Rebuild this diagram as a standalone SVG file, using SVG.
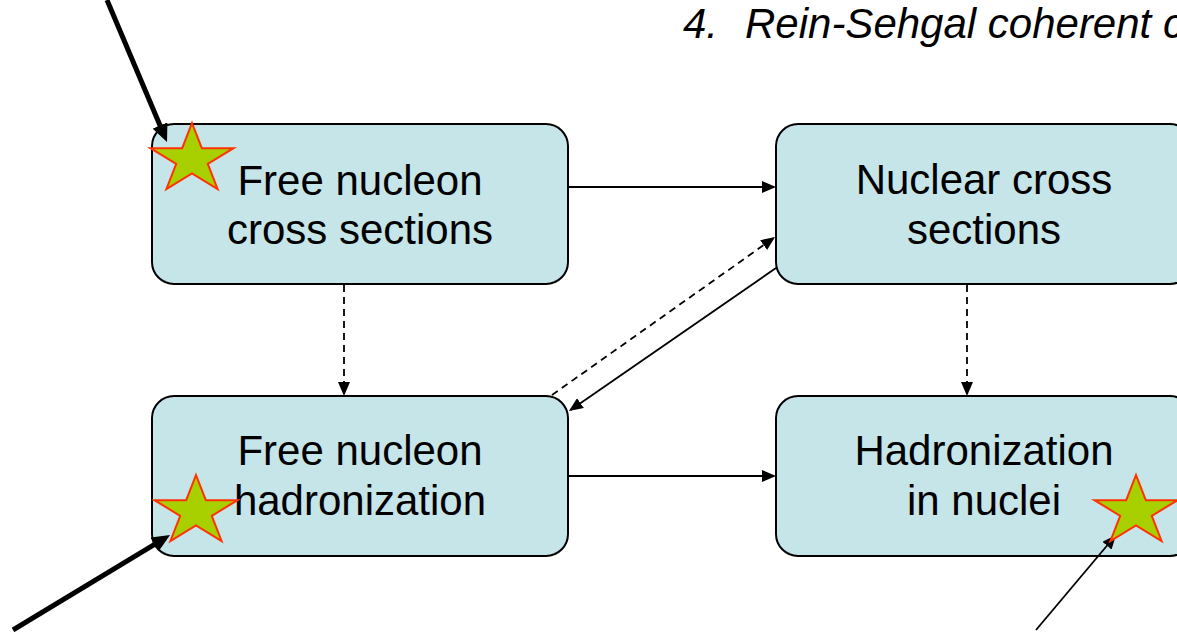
<svg xmlns="http://www.w3.org/2000/svg" width="1177" height="632" viewBox="0 0 1177 632">
  <style>
    .box { fill: #C5E5E8; stroke: #000; stroke-width: 2; }
    .lbl { font-family: "Liberation Sans", Arial, sans-serif; font-size: 42px; fill: #000; text-anchor: middle; }
    .title { font-family: "Liberation Sans", Arial, sans-serif; font-size: 42px; font-style: italic; fill: #000; }
    .thin { stroke: #000; stroke-width: 1.8; fill: none; marker-end: url(#ah); }
    .dash { stroke-dasharray: 7 5; }
    .thick { stroke: #000; stroke-width: 5; fill: none; marker-end: url(#ahb); }
    .star { fill: #A8D000; stroke: #FF3300; stroke-width: 2; stroke-linejoin: miter; }
  </style>
  <defs>
    <marker id="ah" markerUnits="userSpaceOnUse" markerWidth="14" markerHeight="12" refX="12" refY="6" orient="auto">
      <path d="M0,0 L14,6 L0,12 z" fill="#000"/>
    </marker>
    <marker id="ahb" markerUnits="userSpaceOnUse" markerWidth="18" markerHeight="16" refX="12" refY="8" orient="auto">
      <path d="M0,0 L18,8 L0,16 z" fill="#000"/>
    </marker>
    <polygon id="starShape" points="0,-36.5 9.8,-11.3 41.5,-11.3 15.8,4.3 25.6,29.5 0,13.9 -25.6,29.5 -15.8,4.3 -41.5,-11.3 -9.8,-11.3"/>
  </defs>

  <text class="title" x="683" y="38">4.<tspan x="745">Rein-Sehgal coherent c</tspan></text>

  <g id="node-free-xs">
    <rect class="box" x="152" y="124" width="416" height="160" rx="22" ry="22"/>
    <text class="lbl" x="360" y="195">Free nucleon</text>
    <text class="lbl" x="360" y="244">cross sections</text>
  </g>
  <g id="node-nuclear-xs">
    <rect class="box" x="776" y="124" width="416" height="160" rx="22" ry="22"/>
    <text class="lbl" x="984" y="194">Nuclear cross</text>
    <text class="lbl" x="984" y="244">sections</text>
  </g>
  <g id="node-free-had">
    <rect class="box" x="152" y="396" width="416" height="160" rx="22" ry="22"/>
    <text class="lbl" x="360" y="465">Free nucleon</text>
    <text class="lbl" x="360" y="515">hadronization</text>
  </g>
  <g id="node-had-nuclei">
    <rect class="box" x="776" y="396" width="416" height="160" rx="22" ry="22"/>
    <text class="lbl" x="984" y="465">Hadronization</text>
    <text class="lbl" x="984" y="515">in nuclei</text>
  </g>

  <g id="connectors">
    <line class="thin" x1="568" y1="187" x2="774" y2="187"/>
    <line class="thin" x1="568" y1="476" x2="774" y2="476"/>
    <line class="thin dash" x1="344" y1="285" x2="344" y2="394"/>
    <line class="thin dash" x1="967" y1="285" x2="967" y2="394"/>
    <line class="thin dash" x1="552" y1="395" x2="773.4" y2="238.2"/>
    <line class="thin" x1="776" y1="268" x2="570.6" y2="409.9"/>
    <line class="thick" x1="107" y1="0" x2="164.7" y2="136.5"/>
    <line class="thick" x1="13" y1="630" x2="164.9" y2="538.1"/>
    <line class="thin" x1="1036" y1="630" x2="1114.7" y2="536.5"/>
  </g>

  <g id="stars">
    <use href="#starShape" class="star" x="192" y="159.5"/>
    <use href="#starShape" class="star" x="196" y="511.5"/>
    <use href="#starShape" class="star" x="1136" y="511.5"/>
  </g>
</svg>
